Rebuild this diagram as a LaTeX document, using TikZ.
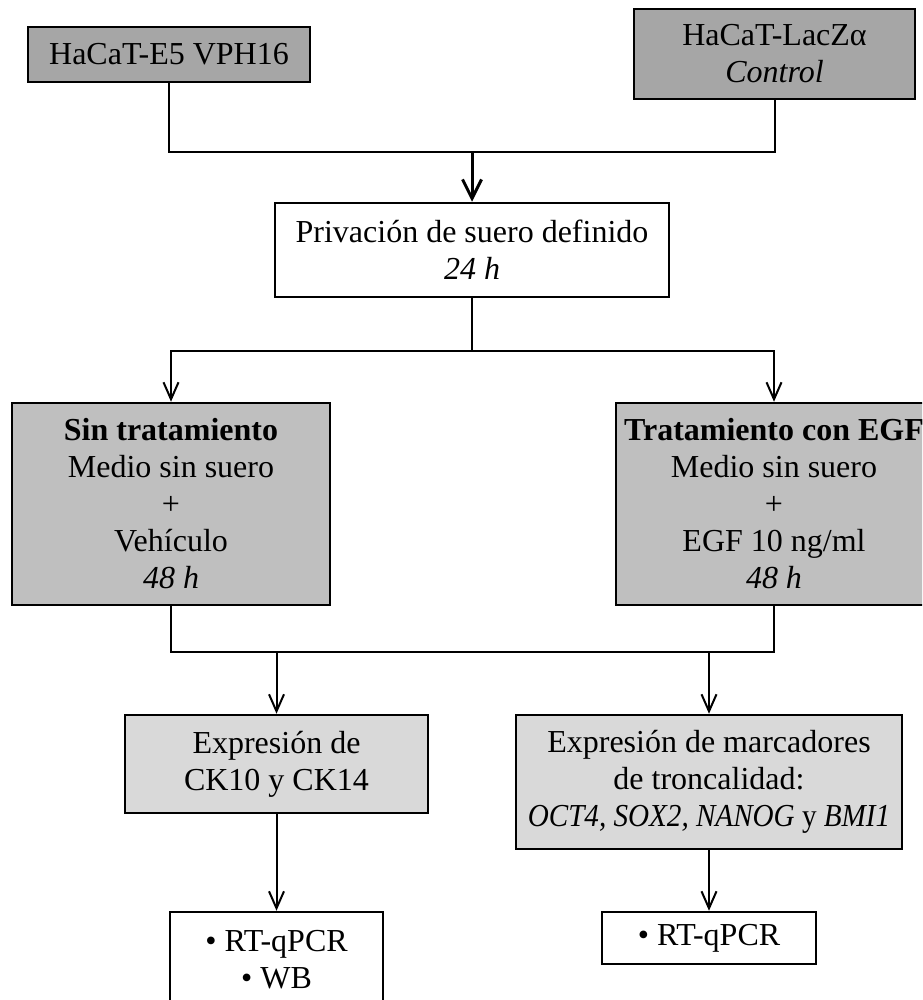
\documentclass[tikz,border=0pt]{standalone}
\usepackage{fontspec}
\setmainfont{Liberation Serif}
\usetikzlibrary{arrows.meta}

\definecolor{cellgray}{HTML}{A6A6A6}
\definecolor{treatgray}{HTML}{BFBFBF}
\definecolor{markgray}{HTML}{D9D9D9}

\begin{document}
\begin{tikzpicture}[x=1pt, y=-1pt, font=\fontsize{32}{37}\selectfont,
    >={Straight Barb[length=17pt,width=15pt]}, line width=2pt,
    box/.style={draw, line width=2.5pt, align=center, inner sep=0pt}]
    \useasboundingbox (0,0) rectangle (922,1000);
    \clip (0,0) rectangle (922,1000);
    % cell lines
    \node[box, fill=cellgray, minimum width=282pt, minimum height=55pt] (hpv) at (169,54.5) {HaCaT-E5 VPH16};
    \node[box, fill=cellgray, minimum width=281pt, minimum height=90pt] (lacz) at (774.5,54) {HaCaT-LacZα\\\textit{Control}};
    \node[box, fill=white, minimum width=394pt, minimum height=94pt] (priv) at (472,250) {Privación de suero definido\\\textit{24 h}};
    % treatments
    \node[box, fill=treatgray, minimum width=318pt, minimum height=202pt] (sintrat) at (171,504) {\textbf{Sin tratamiento}\\Medio sin suero\\+\\Vehículo\\\textit{48 h}};
    \node[box, fill=treatgray, minimum width=316pt, minimum height=202pt] (egf) at (774,504) {\textbf{Tratamiento con EGF}\\Medio sin suero\\+\\EGF 10 ng/ml\\\textit{48 h}};
    % readouts
    \node[box, fill=markgray, minimum width=303pt, minimum height=98pt] (ck) at (276.5,764) {Expresión de\\CK10 y CK14};
    \node[box, fill=markgray, minimum width=386pt, minimum height=134pt] (stem) at (709,782) {Expresión de marcadores\\de troncalidad:\\\scalebox{0.91}[1]{\textit{OCT4, SOX2, NANOG} y \textit{BMI1}}};
    \node[box, fill=white, minimum width=213pt, minimum height=96pt] (rtwb) at (276.5,960) {• RT-qPCR\\• WB};
    \node[box, fill=white, minimum width=214pt, minimum height=52pt] (rtq) at (709,938) {• RT-qPCR};
    % connectors
    \coordinate (join) at (472,152);
    \draw (hpv.south) |- (join);
    \draw (lacz.south) |- (join);
    \draw[-{Straight Barb[length=19pt,width=19pt]}, line width=3pt] (join) -- (priv.north);
    \coordinate (split) at (472,351);
    \draw (priv.south) -- (split);
    \draw[->] (split) -| (sintrat.north);
    \draw[->] (split) -| (egf.north);
    \coordinate (merge) at (475,652);
    \draw (sintrat.south) |- (merge) -| (egf.south);
    \draw[->] (ck.north |- merge) -- (ck.north);
    \draw[->] (stem.north |- merge) -- (stem.north);
    \draw[->] (ck.south) -- (rtwb.north);
    \draw[->] (stem.south) -- (rtq.north);
\end{tikzpicture}
\end{document}
